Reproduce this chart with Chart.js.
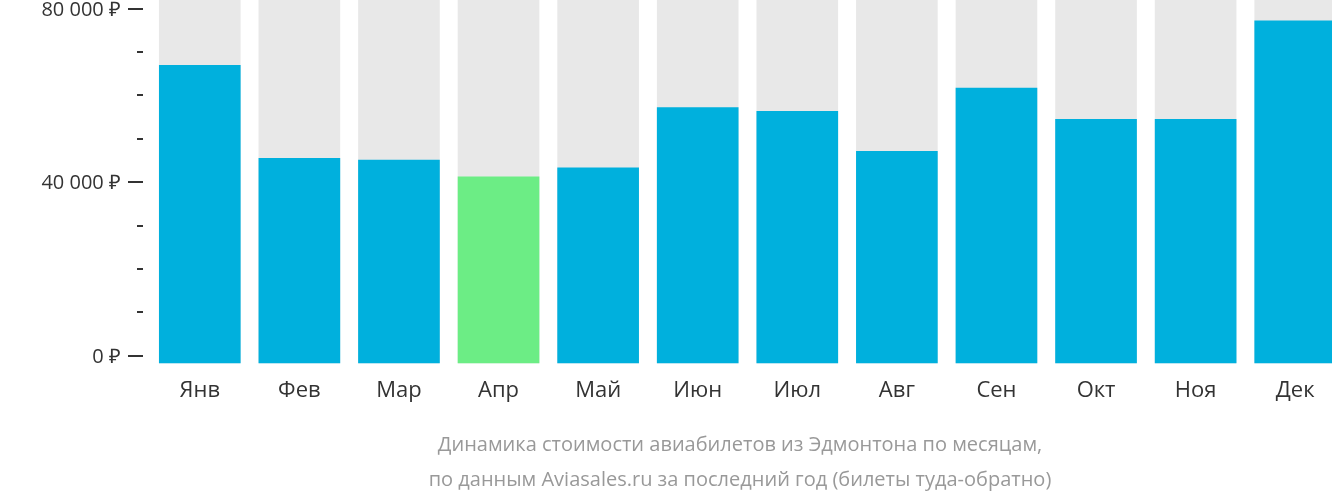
<!DOCTYPE html>
<html><head><meta charset="utf-8">
<script src="https://cdn.jsdelivr.net/npm/chart.js@4"></script>
<style>
  html, body { margin: 0; padding: 0; background: #fff; overflow: hidden; }
  #wrap { position: relative; width: 1345px; height: 502px; }
  #note { position: absolute; left: 140px; width: 1200px; top: 426px; text-align: center;
          font: 20px 'Open Sans', sans-serif; color: #999; line-height: 35px; }
</style></head>
<body>
<div id="wrap"><canvas id="c"></canvas>
  <div id="note">Динамика стоимости авиабилетов из Эдмонтона по месяцам,<br>по данным Aviasales.ru за последний год (билеты туда-обратно)</div>
</div>
<script>
// ─── Data ─────────────────────────────────────────────
const months = ['Янв', 'Фев', 'Мар', 'Апр', 'Май', 'Июн', 'Июл', 'Авг', 'Сен', 'Окт', 'Ноя', 'Дек'];
const prices = [67000, 45600, 45200, 41300, 43400, 57300, 56400, 47200, 61800, 54600, 54600, 77300];
const cheapest = 3;
const backdrop = months.map(() => 82000);
const yLabelValues = [0, 40000, 80000];
const yBase = -1800;

const fmt = v => (v === 0 ? '0' : v.toLocaleString('ru-RU').replace(/\s/g, ' ')) + ' ₽';

// ─── Y axis: labels, long and short tick marks ────────
const yAxisMarks = {
  id: 'yAxisMarks',
  afterDraw(chart) {
    const y = chart.scales.y, ctx = chart.ctx, x1 = 143;
    ctx.save();
    ctx.strokeStyle = '#333'; ctx.lineWidth = 2;
    ctx.fillStyle = '#333'; ctx.font = '20px "Open Sans"';
    ctx.textAlign = 'right'; ctx.textBaseline = 'middle';
    for (let v = 0; v <= 80000; v += 10000) {
      const py = Math.round(y.getPixelForValue(v));
      const major = yLabelValues.includes(v);
      const len = major ? 15 : 6;
      ctx.beginPath(); ctx.moveTo(x1 - len, py); ctx.lineTo(x1, py); ctx.stroke();
      if (major) ctx.fillText(fmt(v), x1 - 22, py + 1);
    }
    ctx.restore();
  }
};

new Chart(document.getElementById('c'), {
  type: 'bar',
  data: {
    labels: months,
    datasets: [
      { data: prices, base: yBase, backgroundColor: prices.map((_, i) => i === cheapest ? '#6ced85' : '#00b0dd'),
        grouped: false, barPercentage: 0.82, categoryPercentage: 1 },
      { data: backdrop, base: yBase, backgroundColor: '#e8e8e8',
        grouped: false, barPercentage: 0.82, categoryPercentage: 1 },
    ],
  },
  options: {
    responsive: true,
    maintainAspectRatio: false,
    animation: false,
    layout: { padding: { top: 0, bottom: 92 } },
    scales: {
      x: {
        grid: { display: false }, border: { display: false },
        ticks: { color: '#333', padding: 6, font: { family: 'Open Sans', size: 22 } },
      },
      y: {
        min: yBase, max: 82000, afterFit: s => { s.width = 150; },
        grid: { display: false }, border: { display: false },
        ticks: { display: false },
      },
    },
    plugins: { legend: { display: false }, tooltip: { enabled: false } },
  },
  plugins: [yAxisMarks],
});
</script>
</body></html>
